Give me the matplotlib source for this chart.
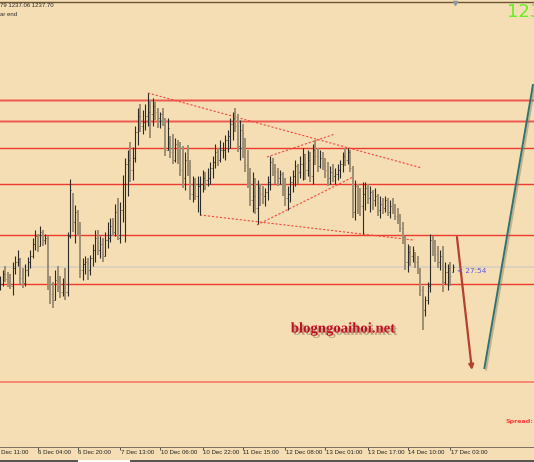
import matplotlib
matplotlib.use("Agg")
import matplotlib.pyplot as plt
import numpy as np
from matplotlib import patheffects as pe
from matplotlib.lines import Line2D
from matplotlib.patches import Rectangle
from matplotlib.transforms import blended_transform_factory

# ---------------- data (XAUUSD, H1) ----------------
high = [1236.4, 1237.0, 1237.4, 1236.8, 1236.6, 1237.8, 1238.4, 1239.0, 1238.2, 1237.2,
        1237.6, 1238.3, 1239.0, 1240.2, 1241.0, 1240.6, 1241.4, 1241.0, 1240.6, 1240.4,
        1236.4, 1235.8, 1237.0, 1237.4, 1236.4, 1236.2, 1237.2, 1240.8, 1246.1, 1244.7,
        1243.5, 1243.0, 1241.8, 1238.2, 1238.4, 1238.2, 1238.5, 1239.6, 1241.0, 1241.0,
        1240.4, 1240.2, 1240.8, 1241.8, 1242.2, 1242.2, 1243.6, 1244.2, 1243.8, 1246.5,
        1248.2, 1249.0, 1249.8, 1249.3, 1251.4, 1253.2, 1253.6, 1253.0, 1253.6, 1254.7,
        1254.0, 1254.2, 1253.8, 1253.2, 1252.8, 1253.2, 1252.2, 1252.2, 1250.4, 1250.6,
        1250.2, 1250.0, 1249.8, 1249.4, 1248.8, 1249.5, 1248.0, 1246.4, 1246.2, 1246.4,
        1246.4, 1247.0, 1246.8, 1247.2, 1247.8, 1248.4, 1249.6, 1249.2, 1250.0, 1249.8,
        1250.5, 1251.0, 1252.2, 1252.8, 1253.2, 1252.6, 1252.0, 1251.6, 1250.2, 1249.0,
        1247.2, 1246.8, 1246.2, 1246.0, 1245.6, 1245.4, 1245.2, 1246.4, 1248.4, 1248.2,
        1247.6, 1247.2, 1247.0, 1246.8, 1246.2, 1245.4, 1246.4, 1247.0, 1248.0, 1247.6,
        1248.4, 1249.2, 1248.6, 1249.0, 1248.8, 1249.6, 1250.0, 1249.2, 1249.0, 1248.8,
        1248.2, 1247.8, 1247.4, 1247.6, 1247.2, 1247.6, 1248.0, 1248.8, 1249.2, 1249.2,
        1249.0, 1247.4, 1246.0, 1245.6, 1245.2, 1245.8, 1245.8, 1245.6, 1245.4, 1245.0,
        1245.2, 1244.6, 1244.4, 1244.2, 1244.4, 1244.2, 1244.0, 1244.2, 1243.6, 1243.2,
        1242.6, 1241.8, 1240.4, 1239.6, 1239.4, 1239.4, 1238.8, 1238.4, 1237.2, 1235.4,
        1234.4, 1235.8, 1240.6, 1240.4, 1240.0, 1239.4, 1239.0, 1239.4, 1237.8, 1237.6,
        1237.8, 1237.6]
low = [1235.0, 1235.4, 1235.8, 1235.3, 1235.1, 1234.5, 1236.6, 1237.4, 1235.6, 1235.2,
       1235.4, 1236.4, 1237.2, 1238.2, 1239.0, 1238.8, 1239.4, 1239.4, 1239.6, 1235.0,
       1233.6, 1233.2, 1234.0, 1234.8, 1234.2, 1234.4, 1234.0, 1234.4, 1240.2, 1240.8,
       1239.7, 1240.4, 1236.2, 1236.0, 1236.6, 1236.0, 1236.5, 1237.4, 1237.8, 1238.5,
       1238.2, 1237.8, 1238.4, 1239.2, 1239.8, 1240.4, 1240.4, 1240.0, 1239.7, 1241.8,
       1239.8, 1244.4, 1245.8, 1246.0, 1247.8, 1249.5, 1250.8, 1250.6, 1251.0, 1251.4,
       1250.2, 1251.4, 1252.0, 1251.2, 1251.2, 1251.4, 1248.4, 1249.0, 1248.2, 1247.6,
       1247.8, 1247.6, 1246.4, 1245.2, 1245.0, 1246.4, 1244.0, 1243.8, 1244.0, 1242.8,
       1242.5, 1244.8, 1245.0, 1245.4, 1245.6, 1246.2, 1247.2, 1247.4, 1247.8, 1248.2,
       1248.0, 1248.8, 1249.2, 1250.0, 1250.8, 1248.8, 1248.0, 1248.2, 1246.8, 1245.2,
       1243.4, 1242.8, 1242.6, 1241.6, 1243.4, 1243.6, 1243.4, 1244.0, 1245.0, 1246.4,
       1245.6, 1245.4, 1245.6, 1244.4, 1243.4, 1243.0, 1243.8, 1244.8, 1245.4, 1245.6,
       1246.2, 1246.0, 1246.0, 1246.4, 1245.8, 1245.6, 1247.5, 1246.8, 1247.2, 1247.0,
       1246.2, 1245.4, 1245.6, 1245.8, 1245.6, 1246.0, 1246.2, 1246.8, 1247.4, 1247.6,
       1246.8, 1242.2, 1242.0, 1242.6, 1242.4, 1240.6, 1243.0, 1243.6, 1242.8, 1243.0,
       1243.4, 1242.4, 1242.2, 1242.6, 1242.8, 1242.4, 1242.2, 1242.6, 1242.0, 1241.6,
       1240.8, 1239.6, 1237.0, 1236.8, 1237.4, 1237.8, 1237.2, 1236.6, 1234.4, 1231.0,
       1232.4, 1233.6, 1234.8, 1238.4, 1237.8, 1237.2, 1237.0, 1234.8, 1235.6, 1235.0,
       1235.4, 1236.8]
close = [1235.6, 1236.6, 1236.1, 1235.7, 1235.4, 1237.2, 1237.8, 1238.1, 1236.2, 1235.7,
         1237.0, 1237.8, 1238.4, 1239.6, 1240.4, 1239.4, 1240.8, 1240.0, 1240.2, 1235.4,
         1234.6, 1234.0, 1236.0, 1235.4, 1234.8, 1235.6, 1234.8, 1240.4, 1245.0, 1241.8,
         1242.8, 1240.8, 1237.0, 1237.6, 1237.8, 1237.0, 1238.2, 1239.0, 1240.2, 1239.0,
         1239.6, 1238.4, 1240.0, 1240.2, 1241.4, 1240.8, 1242.8, 1240.2, 1243.0, 1245.6,
         1247.6, 1248.0, 1247.0, 1248.2, 1250.8, 1252.4, 1251.4, 1251.8, 1252.4, 1252.8,
         1252.6, 1253.4, 1252.8, 1252.2, 1252.6, 1252.0, 1249.0, 1251.2, 1248.8, 1248.0,
         1249.6, 1248.4, 1247.0, 1246.2, 1248.0, 1247.0, 1244.6, 1245.6, 1244.4, 1245.4,
         1245.6, 1246.2, 1246.0, 1246.2, 1247.2, 1247.8, 1248.8, 1248.0, 1249.0, 1249.0,
         1250.0, 1250.4, 1251.6, 1252.2, 1251.4, 1249.4, 1251.0, 1250.0, 1247.5, 1245.8,
         1244.0, 1244.4, 1243.2, 1245.2, 1244.6, 1244.4, 1244.8, 1245.8, 1247.8, 1247.0,
         1246.8, 1246.2, 1246.6, 1245.0, 1244.2, 1244.6, 1245.8, 1246.4, 1247.4, 1246.8,
         1247.6, 1248.6, 1247.0, 1248.0, 1246.4, 1249.0, 1248.4, 1247.4, 1248.2, 1247.4,
         1247.0, 1246.2, 1246.8, 1246.4, 1246.6, 1247.0, 1247.6, 1248.4, 1248.0, 1248.8,
         1247.2, 1242.8, 1245.4, 1244.4, 1243.4, 1244.6, 1245.2, 1244.2, 1244.8, 1244.0,
         1244.4, 1243.0, 1243.6, 1243.2, 1244.0, 1242.8, 1243.4, 1243.0, 1242.4, 1242.0,
         1241.2, 1240.0, 1237.8, 1238.8, 1238.4, 1239.0, 1237.8, 1237.0, 1235.0, 1233.0,
         1234.0, 1235.4, 1240.0, 1239.2, 1238.6, 1237.8, 1238.4, 1235.8, 1236.8, 1237.2,
         1236.4, 1237.3]

tick_idx = [-2, 15, 31, 48, 64, 81, 97, 114, 130, 147, 163, 180]
tick_labels = ["5 Dec 11:00", "6 Dec 04:00", "6 Dec 20:00", "7 Dec 13:00",
               "10 Dec 06:00", "10 Dec 22:00", "11 Dec 15:00", "12 Dec 08:00",
               "13 Dec 01:00", "13 Dec 17:00", "14 Dec 10:00", "17 Dec 03:00"]

levels_upper = [1254.0, 1251.9]
levels_red = [1249.2, 1245.6, 1240.5, 1235.65]
level_target = 1225.8
bid_price = 1237.3

trend_lines = [((59.1, 1254.7), (168.7, 1247.2)),
               ((79.9, 1242.5), (165.1, 1240.0)),
               ((102.7, 1241.5), (141.1, 1246.3)),
               ((106.7, 1248.3), (133.9, 1250.6))]
arrow_down = ((182.7, 1240.3), (188.7, 1227.0))
arrow_up = ((193.7, 1227.2), (213.1, 1255.5))

header_text = "79 1237.06 1237.70"
header_text2 = "ar end"
big_price = "1237.06"
timer_text = "< 27:54"
watermark = "blogngoaihoi.net"
spread_text = "Spread:"

# ---------------- figure ----------------
W, H = 534, 462
BG = "#F5DEB3"
fig = plt.figure(figsize=(W / 100, H / 100), dpi=100)
fig.patch.set_facecolor(BG)
ax = fig.add_axes([0, 15 / H, 1, 447 / H])
ax.set_facecolor(BG)
ax.set_xlim(-0.08, 213.52)
ax.set_ylim(1219.3, 1264.0)
for s in ["top", "left", "right"]:
    ax.spines[s].set_visible(False)
ax.spines["bottom"].set_color("#6a6050")
ax.spines["bottom"].set_linewidth(0.6)
ax.set_yticks([])

# horizontal levels
ax.axhline(bid_price, color="#D9D0C0", lw=1.3, zorder=1)
for lv in levels_upper:
    ax.axhline(lv, color="#F08878", lw=1.8, zorder=2)
    ax.axhline(lv, color="#EE5040", lw=0.6, zorder=2)
for lv in levels_red:
    ax.axhline(lv, color="#EE3A2E", lw=1.0, zorder=2)
ax.axhline(level_target, color="#F58A70", lw=1.4, zorder=2)

# trend lines
for (x0, y0), (x1, y1) in trend_lines:
    ax.plot([x0, x1], [y0, y1], color="#F04A40", lw=0.8,
            linestyle=(0, (2.0, 1.6)), zorder=3)

# OHLC bars
hi = np.array(high)
lo = np.array(low)
cl = np.array(close)
idx = np.arange(len(hi))
op = np.clip(np.r_[cl[0], cl[:-1]], lo, hi)
up = cl >= op
dn = ~up
ax.vlines(idx[dn], lo[dn], hi[dn], color="#9E8E74", lw=1.4, zorder=4)
ax.vlines(idx[up], lo[up], hi[up], color="#2C2A26", lw=0.8, zorder=5)
ax.hlines(op[up], idx[up] - 0.45, idx[up], color="#2C2A26", lw=0.6, zorder=5)
ax.hlines(cl[up], idx[up], idx[up] + 0.45, color="#2C2A26", lw=0.6, zorder=5)
ax.hlines(op[dn], idx[dn] - 0.45, idx[dn], color="#9E8E74", lw=0.6, zorder=4)
ax.hlines(cl[dn], idx[dn], idx[dn] + 0.45, color="#9E8E74", lw=0.6, zorder=4)

# arrows
shadow = [pe.SimpleLineShadow(offset=(1.2, -1.2), shadow_color="#8a7a60", alpha=0.45), pe.Normal()]
ax.annotate("", xy=arrow_down[1], xytext=arrow_down[0],
            arrowprops=dict(arrowstyle="-|>", color="#B4402F", lw=1.6,
                            mutation_scale=7, shrinkA=0, shrinkB=0), zorder=6)
ax.plot([arrow_up[0][0], arrow_up[1][0]], [arrow_up[0][1], arrow_up[1][1]],
        color="#2C7474", lw=1.4, zorder=6, path_effects=shadow)

# timer
ax.text(182.6, 1236.9, timer_text, color="#5A5AE0", fontsize=5.2,
        fontfamily="DejaVu Sans", va="center", ha="left", zorder=7)

# x ticks
ax.set_xticks([t for t in tick_idx if t >= 0])
ax.set_xticklabels([])
ax.tick_params(axis="x", direction="out", length=2.2, width=0.6, color="#3a3a3a")
btr = blended_transform_factory(ax.transData, ax.transAxes)
for t, lab in zip(tick_idx, tick_labels):
    ax.text(t + 0.3, -0.0065, lab, transform=btr, ha="left", va="top",
            fontsize=4.4, fontfamily="Liberation Sans", color="#222222", clip_on=False)

# ---------------- figure decorations ----------------
def fx(x):
    return x / W

def fy(y):
    return 1 - y / H

fig.add_artist(Line2D([0, 1], [fy(1.5), fy(1.5)], transform=fig.transFigure,
                      color="#6B5535", lw=1.0))
fig.add_artist(Rectangle((0, 0), 1, 2.5 / H, transform=fig.transFigure,
                         facecolor="#555555", edgecolor="none"))
fig.add_artist(Rectangle((fx(78), 0), fx(130) - fx(78), 2.5 / H, transform=fig.transFigure,
                         facecolor="#FFFFFF", edgecolor="none"))
fig.add_artist(Line2D([fx(455)], [fy(3)], transform=fig.transFigure, marker="v",
                      markersize=3, color="#9098A8", linestyle="none"))

fig.text(fx(0), fy(5.8), header_text, fontsize=4.3, fontfamily="Liberation Sans",
         color="#2a2a2a", va="center", ha="left")
fig.text(fx(0), fy(14.5), header_text2, fontsize=4.3, fontfamily="Liberation Sans",
         color="#2a2a2a", va="center", ha="left")
fig.text(fx(507), fy(17), big_price, fontsize=13, fontfamily="DejaVu Sans",
         color="#66EE22", va="baseline", ha="left")
fig.text(fx(505), fy(422), spread_text, fontsize=4.6, fontfamily="DejaVu Sans",
         fontweight="bold", color="#FF4040", va="center", ha="left")
fig.text(fx(343), fy(329), watermark, fontsize=10.6, fontfamily="Liberation Serif",
         fontweight="bold", color="#C40C22", va="center", ha="center",
         path_effects=[pe.withSimplePatchShadow(offset=(1.6, -1.6), shadow_rgbFace="#6b5a40", alpha=0.45)])

fig.savefig("out.png", dpi=100, facecolor=BG)
